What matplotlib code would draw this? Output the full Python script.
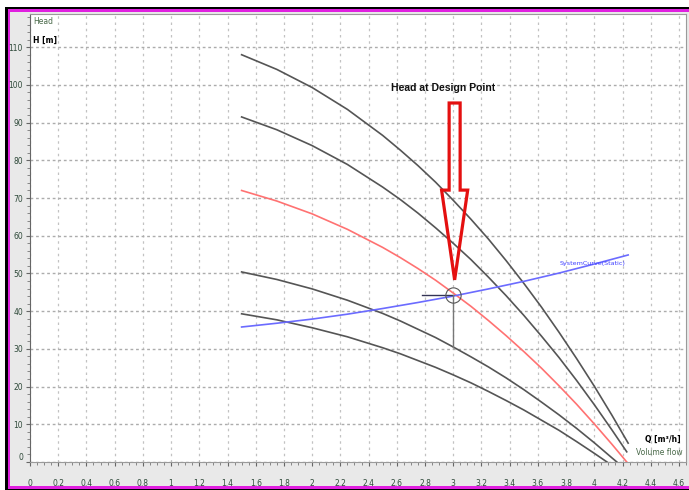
import matplotlib
matplotlib.use("Agg")
import matplotlib.pyplot as plt
from matplotlib.patches import Rectangle, FancyArrow
from matplotlib.ticker import MultipleLocator, FixedLocator

# ---------------- data ----------------
q_c1 = [1.5, 1.75, 2.0, 2.25, 2.5, 2.625, 2.75, 2.875, 3.0, 3.125, 3.25, 3.375, 3.5,
        3.625, 3.75, 3.875, 4.0, 4.125, 4.24]
h_c1 = [108.0, 104.1, 99.3, 93.5, 86.6, 82.7, 78.6, 74.2, 69.4, 64.4, 59.1, 53.4, 47.4,
        41.1, 34.4, 27.4, 20.1, 12.4, 5.0]

q_c2 = [1.5, 1.75, 2.0, 2.25, 2.5, 2.625, 2.75, 2.875, 3.0, 3.125, 3.25, 3.375, 3.5,
        3.625, 3.75, 3.875, 4.0, 4.125, 4.23]
h_c2 = [91.5, 88.1, 83.9, 78.9, 72.9, 69.6, 66.0, 62.1, 58.0, 53.7, 49.0, 44.1, 38.9,
        33.4, 27.7, 21.6, 15.2, 8.5, 2.7]

q_red = [1.5, 1.75, 2.0, 2.25, 2.5, 2.625, 2.75, 2.875, 3.0, 3.125, 3.25, 3.375, 3.5,
         3.625, 3.75, 3.875, 4.0, 4.125, 4.23]
h_red = [72.0, 69.2, 65.8, 61.7, 56.9, 54.2, 51.3, 48.2, 44.8, 41.3, 37.5, 33.5, 29.3,
         24.9, 20.2, 15.3, 10.1, 4.7, 0.0]

q_c4 = [1.5, 1.75, 2.0, 2.25, 2.5, 2.625, 2.75, 2.875, 3.0, 3.125, 3.25, 3.375, 3.5,
        3.625, 3.75, 3.875, 4.0, 4.125, 4.16]
h_c4 = [50.4, 48.4, 45.9, 42.9, 39.4, 37.4, 35.2, 33.0, 30.5, 27.9, 25.2, 22.3, 19.2,
        15.9, 12.5, 8.9, 5.1, 1.1, 0.0]

q_c5 = [1.5, 1.75, 2.0, 2.25, 2.5, 2.625, 2.75, 2.875, 3.0, 3.125, 3.25, 3.375, 3.5,
        3.625, 3.75, 3.875, 4.0, 4.09]
h_c5 = [39.3, 37.7, 35.6, 33.2, 30.3, 28.7, 26.9, 25.1, 23.1, 21.0, 18.7, 16.3, 13.8,
        11.1, 8.4, 5.4, 2.3, 0.0]

q_sys = [1.5, 1.75, 2.0, 2.25, 2.5, 2.75, 3.0, 3.25, 3.5, 3.75, 4.0, 4.24]
h_sys = [35.8, 36.8, 37.9, 39.2, 40.7, 42.3, 44.0, 45.9, 47.9, 50.1, 52.5, 54.9]

design_q = 3.0
design_h = 44.3
design_h_low = 30.5          # 4th curve at design flow
leader_q_start = 2.78

x_ticks = [round(0.2 * i, 1) for i in range(24)]
x_tick_labels = [("%g" % v) for v in x_ticks]
y_ticks = list(range(0, 120, 10))
y_tick_labels = [str(v) for v in y_ticks]

sys_label = "SystemCurve(Static)"
title_text = "Head at Design Point"

# ---------------- figure ----------------
W, H = 689, 490
fig = plt.figure(figsize=(W / 100, H / 100), dpi=100)
fig.patch.set_facecolor("white")

def fx(px):
    return px / W

def fy(py):
    return 1 - py / H

# frames: black, magenta, light gray
fig.patches.append(Rectangle((fx(5), fy(492)), 1, fy(7) - fy(492), transform=fig.transFigure,
                             facecolor="black", edgecolor="none", zorder=-10))
fig.patches.append(Rectangle((fx(8), fy(489)), 1, fy(9) - fy(489), transform=fig.transFigure,
                             facecolor="#e020e0", edgecolor="none", zorder=-9))
fig.patches.append(Rectangle((fx(10), fy(486)), 1, fy(12) - fy(486), transform=fig.transFigure,
                             facecolor="#e9e9e9", edgecolor="none", zorder=-8))

ax = fig.add_axes([fx(30), fy(462), fx(686) - fx(30), fy(14) - fy(462)])
ax.set_facecolor("white")
ax.set_xlim(0, 4.65)
ax.set_ylim(0, 118.8)

# grid
ax.xaxis.set_major_locator(FixedLocator(x_ticks))
ax.set_xticklabels(x_tick_labels)
ax.yaxis.set_major_locator(FixedLocator(y_ticks))
ax.set_yticklabels(y_tick_labels)
ax.xaxis.set_minor_locator(MultipleLocator(0.05))
ax.yaxis.set_minor_locator(MultipleLocator(2))
ax.grid(True, axis="x", which="major", color="#c2c2c2", linestyle=(0, (2, 3)), linewidth=0.9)
ax.grid(True, axis="y", which="major", color="#acacac", linestyle=(0, (2, 2)), linewidth=1.0)
ax.set_axisbelow(True)

tick_col = "#2f4a3a"
ax.tick_params(axis="both", which="major", labelsize=5.5, labelcolor=tick_col, color="#666666",
               length=3, width=0.8, direction="out")
ax.tick_params(axis="both", which="minor", color="#777777", length=2, width=0.6, direction="out")
ax.tick_params(axis="x", which="major", pad=9)
ax.tick_params(axis="y", which="major", pad=2)
for lbl in ax.get_yticklabels():
    if lbl.get_text() == "0":
        lbl.set_va("bottom")

for s in ["left", "bottom", "top", "right"]:
    ax.spines[s].set_color("#9a9a9a")
    ax.spines[s].set_linewidth(0.8)
ax.spines["left"].set_color("#666666")

# curves
gray = "#555555"
ax.plot(q_c1, h_c1, color=gray, lw=1.2, zorder=3)
ax.plot(q_c2, h_c2, color=gray, lw=1.2, zorder=3)
ax.plot(q_c4, h_c4, color=gray, lw=1.2, zorder=3)
ax.plot(q_c5, h_c5, color=gray, lw=1.2, zorder=3)
ax.plot(q_red, h_red, color="#ff7272", lw=1.2, zorder=3)
ax.plot(q_sys, h_sys, color="#6b6bff", lw=1.2, zorder=3)

# design point markers
ax.plot([leader_q_start, design_q], [design_h, design_h], color="#333355", lw=1.0, zorder=4)
ax.plot([design_q, design_q], [design_h, design_h_low], color="#777777", lw=1.0, zorder=4)
ax.plot([design_q], [design_h], marker="o", markersize=11, markerfacecolor="none",
        markeredgecolor="#555555", markeredgewidth=0.8, zorder=5)

# system curve label
ax.text(q_sys[-1] - 0.02, h_sys[-1] - 1.5, sys_label, color="#4040ff", fontsize=4.6,
        ha="right", va="top", zorder=5)

# red hollow arrow
arrow_top = 95.2
arrow_tip = 48.3
arrow = FancyArrow(design_q + 0.01, arrow_top, 0, arrow_tip - arrow_top, width=0.078,
                   head_width=0.185, head_length=23.8, length_includes_head=True,
                   facecolor="none", edgecolor="#e41010", linewidth=2.3, zorder=6,
                   joinstyle="miter")
ax.add_patch(arrow)

ax.text(design_q - 0.07, 99.3, title_text, fontsize=7.5, fontweight="bold",
        family="Liberation Sans", ha="center", va="center", color="#111111", zorder=7)

# axis labels inside plot
fig.text(fx(33), fy(22), "Head", fontsize=5.5, color="#4a6a4a", ha="left", va="center")
fig.text(fx(33), fy(40), "H [m]", fontsize=5.5, color="black", fontweight="bold", ha="left", va="center")
fig.text(fx(681), fy(439), "Q [m\u00b3/h]", fontsize=5.5, color="black", fontweight="bold",
         ha="right", va="center")
fig.text(fx(683), fy(452), "Volume flow", fontsize=5.5, color="#4a6a4a", ha="right", va="center")

fig.savefig("out.png", dpi=100, facecolor=fig.get_facecolor())
